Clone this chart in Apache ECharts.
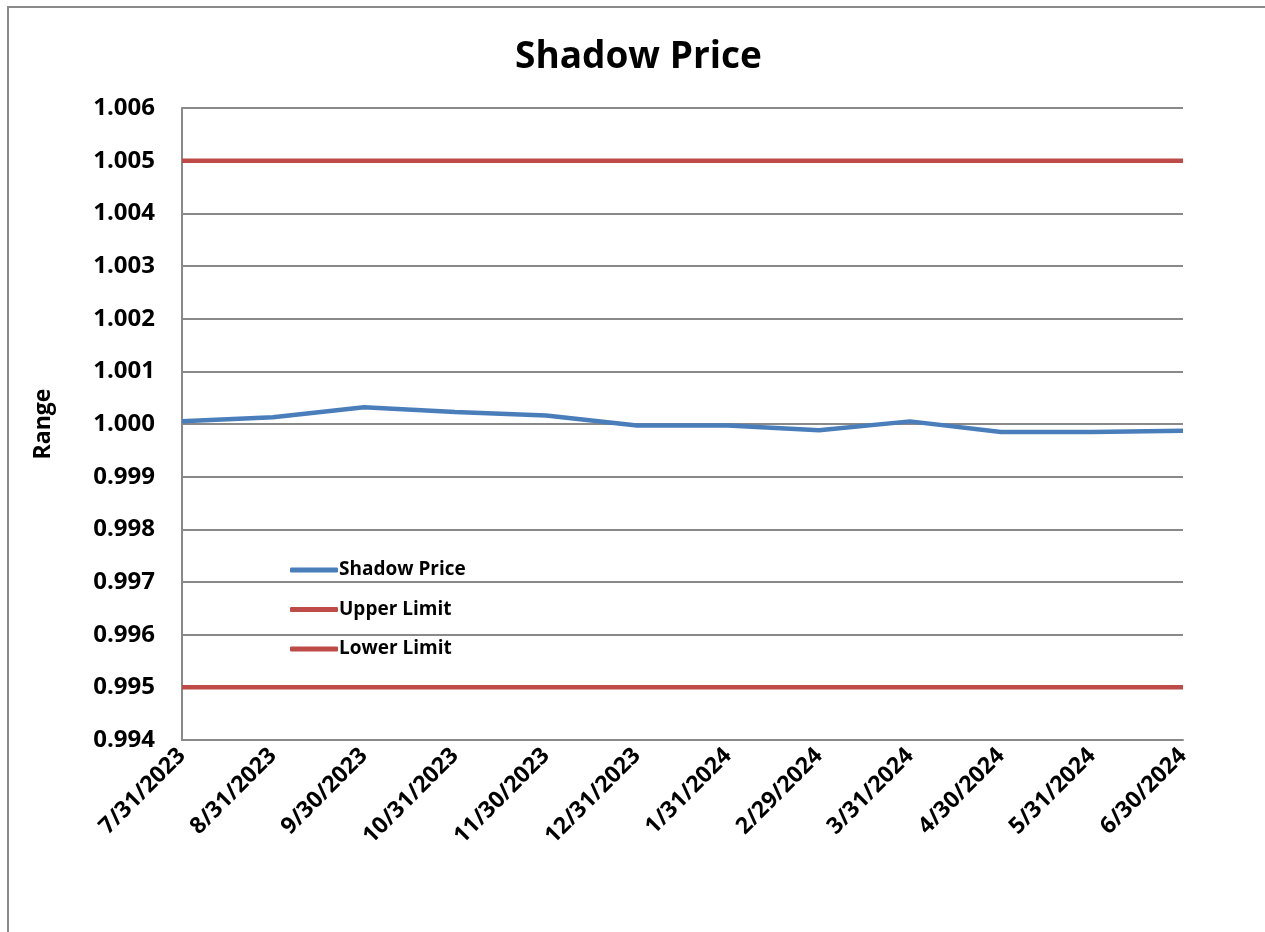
<!DOCTYPE html>
<html>
<head>
<meta charset="utf-8">
<script src="https://cdn.jsdelivr.net/npm/echarts@6/dist/echarts.min.js"></script>
<style>
  html, body { margin: 0; padding: 0; background: #fff; }
  #frame {
    position: absolute; left: 7px; top: 6px; width: 1270px; height: 940px;
    border-left: 2px solid #8a8a8a; border-top: 2px solid #8a8a8a;
  }
  #chart { position: absolute; left: 0; top: 0; width: 1265px; height: 932px; }
</style>
</head>
<body>
<div id="frame"></div>
<div id="chart"></div>
<script>
// 月末日期
const dates = ['7/31/2023', '8/31/2023', '9/30/2023', '10/31/2023', '11/30/2023', '12/31/2023',
  '1/31/2024', '2/29/2024', '3/31/2024', '4/30/2024', '5/31/2024', '6/30/2024']

// 影子价格
const shadowPrice = [1.00005, 1.00013, 1.00032, 1.00023, 1.00016, 0.99997,
  0.99997, 0.99988, 1.00005, 0.99985, 0.99985, 0.99987]

// 上下限
const upperLimit = [1.005, 1.005, 1.005, 1.005, 1.005, 1.005, 1.005, 1.005, 1.005, 1.005, 1.005, 1.005]
const lowerLimit = [0.995, 0.995, 0.995, 0.995, 0.995, 0.995, 0.995, 0.995, 0.995, 0.995, 0.995, 0.995]

const FONT = '"Open Sans", sans-serif'
const BLUE = '#4a7ebb'
const RED = '#be4b48'
const GRID = '#898989'

const chart = echarts.init(document.getElementById('chart'))

const option = {
  animation: false,
  title: {
    text: 'Shadow Price',
    left: 515,
    top: 39,
    padding: 0,
    textStyle: { fontFamily: FONT, fontWeight: 'bold', fontSize: 37, color: '#000' }
  },
  legend: {
    orient: 'vertical',
    left: 285,
    top: 555,
    itemWidth: 48,
    itemHeight: 5,
    itemGap: 19.5,
    icon: 'roundRect',
    textStyle: {
      fontFamily: FONT, fontWeight: 'bold', fontSize: 19, lineHeight: 20, color: '#000',
      padding: [0, 0, 0, -4]
    },
    data: ['Shadow Price', 'Upper Limit', 'Lower Limit']
  },
  grid: { left: 182, right: 82, top: 108, bottom: 192 },
  xAxis: {
    type: 'category',
    data: dates,
    boundaryGap: false,
    axisLine: { lineStyle: { color: GRID, width: 2 } },
    axisTick: { show: false },
    axisLabel: {
      rotate: 45,
      margin: 12,
      interval: 0,
      fontFamily: FONT, fontWeight: 'bold', fontSize: 23, color: '#000'
    },
    splitLine: { show: false }
  },
  yAxis: {
    type: 'value',
    min: 0.994,
    max: 1.006,
    interval: 0.001,
    name: 'Range',
    nameLocation: 'middle',
    nameGap: 127,
    nameRotate: 90,
    nameTextStyle: { fontFamily: FONT, fontWeight: 'bold', fontSize: 23, color: '#000' },
    axisLine: { show: true, lineStyle: { color: GRID, width: 2 } },
    axisTick: { show: false },
    axisLabel: {
      margin: 27,
      fontFamily: FONT, fontWeight: 'bold', fontSize: 24, color: '#000',
      formatter: v => v.toFixed(3)
    },
    splitLine: { lineStyle: { color: GRID, width: 2 } }
  },
  series: [
    {
      name: 'Shadow Price',
      type: 'line',
      data: shadowPrice,
      symbol: 'none',
      itemStyle: { color: BLUE },
      lineStyle: { color: BLUE, width: 4.5 },
      z: 3
    },
    {
      name: 'Upper Limit',
      type: 'line',
      data: upperLimit,
      symbol: 'none',
      itemStyle: { color: RED },
      lineStyle: { color: RED, width: 4.5 }
    },
    {
      name: 'Lower Limit',
      type: 'line',
      data: lowerLimit,
      symbol: 'none',
      itemStyle: { color: RED },
      lineStyle: { color: RED, width: 4.5 }
    }
  ]
}

chart.setOption(option)
</script>
</body>
</html>
